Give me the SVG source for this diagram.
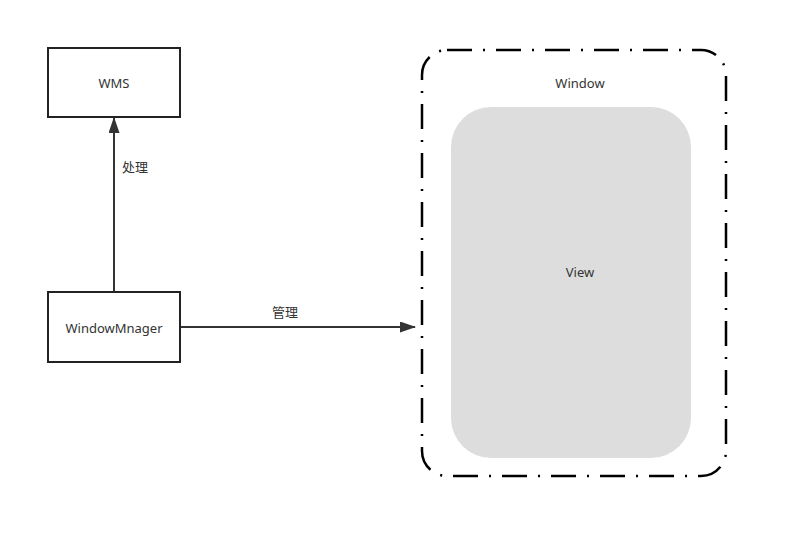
<svg xmlns="http://www.w3.org/2000/svg" width="790" height="540" viewBox="0 0 790 540">
<defs>
<style>
.box{fill:#fff;stroke:#222;stroke-width:2}
.lbl{font-family:"Noto Sans","Noto Sans CJK SC",sans-serif;font-size:13px;fill:#333;text-anchor:middle;dominant-baseline:central}
.edge{stroke:#333;stroke-width:2;fill:none}
</style>
<marker id="ah" viewBox="0 0 16 11" refX="15" refY="5.5" markerWidth="16" markerHeight="11" markerUnits="userSpaceOnUse" orient="auto">
<path d="M0,0 L16,5.5 L0,11 Z" fill="#333"/>
</marker>
</defs>
<rect width="790" height="540" fill="#fff"/>
<g id="window">
<rect x="422" y="50" width="304" height="426" rx="25" ry="25" fill="#fff" stroke="#000" stroke-width="2.5" stroke-dasharray="25 11 2 11"/>
<text class="lbl" x="580" y="83">Window</text>
</g>
<g id="view">
<rect x="451" y="107" width="240" height="351" rx="40" ry="40" fill="#dddddd"/>
<text class="lbl" x="580" y="272">View</text>
</g>
<g id="wms">
<rect class="box" x="48" y="48" width="132" height="69"/>
<text class="lbl" x="114" y="83">WMS</text>
</g>
<g id="windowmanager">
<rect class="box" x="48" y="292" width="132" height="70"/>
<text class="lbl" x="114" y="328">WindowMnager</text>
</g>
<g id="connectors">
<line class="edge" x1="114" y1="291" x2="114" y2="118" marker-end="url(#ah)"/>
<text class="lbl" x="135" y="167">处理</text>
<line class="edge" x1="181" y1="327" x2="415" y2="327" marker-end="url(#ah)"/>
<text class="lbl" x="285" y="312">管理</text>
</g>
</svg>
